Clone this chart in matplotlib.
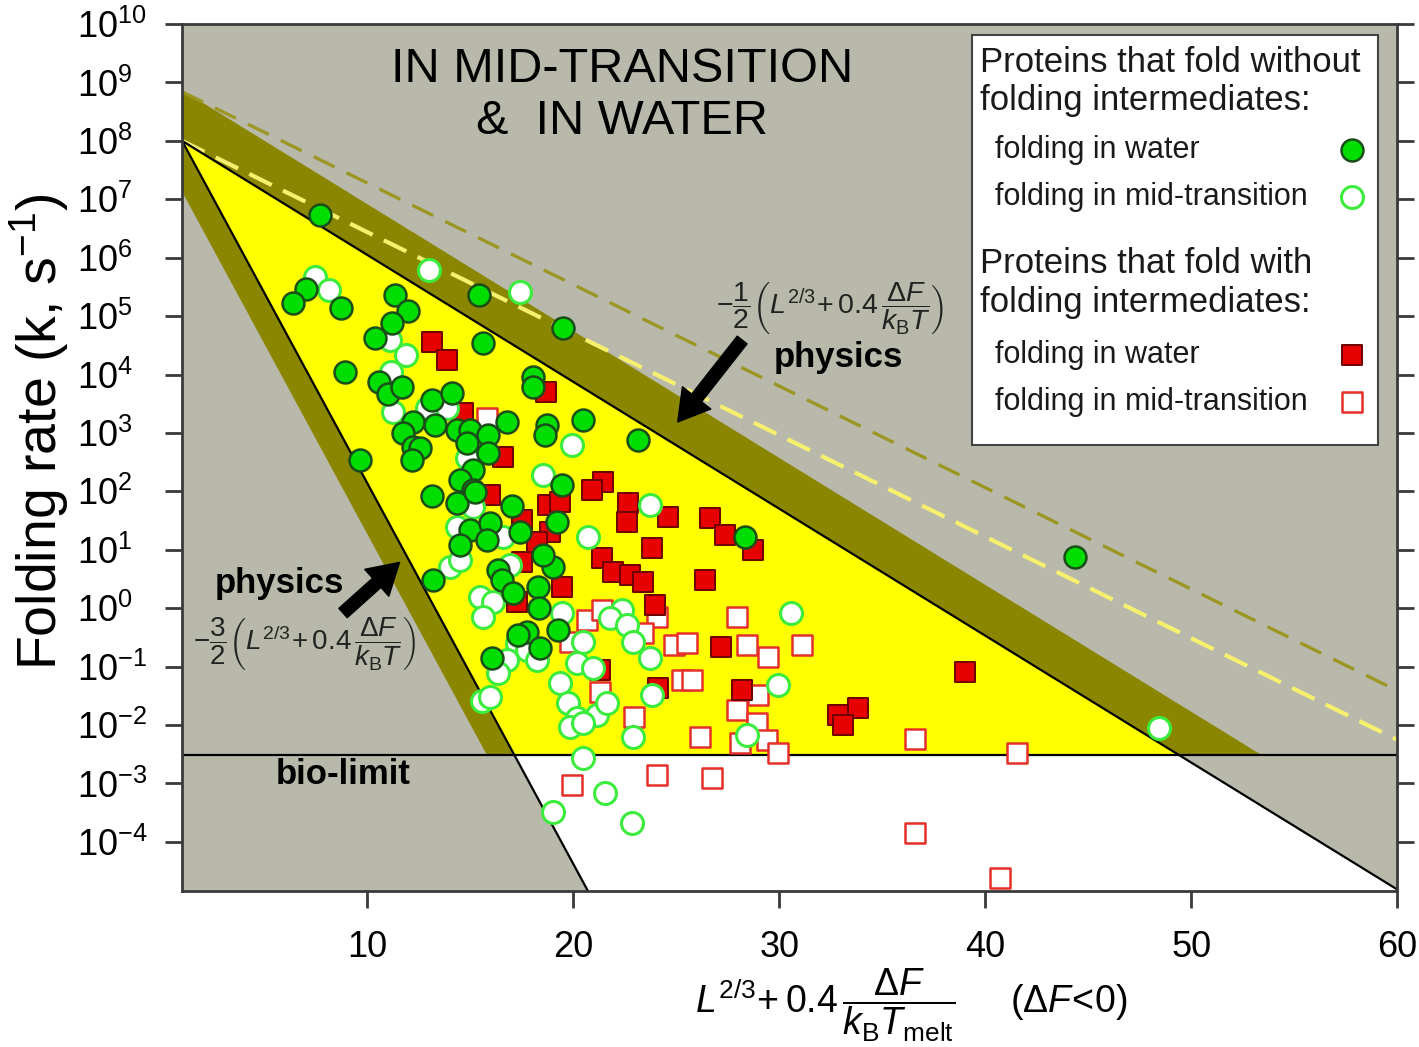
import numpy as np
import matplotlib.pyplot as plt
from matplotlib.patches import Rectangle

plt.rcParams["font.family"] = ["Liberation Sans", "DejaVu Sans"]
plt.rcParams["mathtext.fontset"] = "custom"
plt.rcParams["mathtext.rm"] = "Liberation Sans"
plt.rcParams["mathtext.it"] = "Liberation Sans:italic"
plt.rcParams["mathtext.bf"] = "Liberation Sans:bold"

# ---- data (x, log10 k) ----
# no intermediates, folding in water (filled green circles)
no_int_water_x = [7.72, 7.04, 6.41, 8.74, 15.43, 19.51, 11.36, 11.99, 11.21, 10.39,
                  15.63, 8.93, 10.58, 11.02, 11.70, 13.15, 14.12, 12.23, 13.30, 11.75,
                  12.23, 12.57, 12.18, 9.66, 14.36, 15.00, 14.85, 15.14, 14.51, 15.14,
                  13.15, 14.36, 15.00, 18.05, 18.05, 16.79, 18.73, 18.63, 20.47, 23.14,
                  15.87, 15.87, 19.46, 15.24, 17.03, 19.21, 17.42, 15.97, 14.51, 15.82,
                  13.20, 19.02, 18.54, 16.35, 16.55, 18.29, 17.08, 18.34, 17.76, 17.32,
                  19.26, 18.39, 16.06, 28.33, 44.34]
no_int_water_logk = [6.73, 5.46, 5.22, 5.14, 5.36, 4.79, 5.36, 5.09, 4.88, 4.62,
                     4.54, 4.04, 3.87, 3.66, 3.78, 3.56, 3.68, 3.18, 3.13, 3.00,
                     2.76, 2.74, 2.53, 2.53, 3.05, 3.05, 2.83, 2.36, 2.19, 2.02,
                     1.92, 1.80, 1.34, 3.96, 3.78, 3.18, 3.13, 2.96, 3.22, 2.88,
                     2.96, 2.65, 2.11, 1.99, 1.75, 1.47, 1.30, 1.46, 1.08, 1.16,
                     0.48, 0.70, 0.91, 0.65, 0.48, 0.36, 0.26, 0.00, -0.41, -0.46,
                     -0.38, -0.68, -0.86, 1.22, 0.87]

# no intermediates, folding in mid-transition (open green circles)
no_int_mid_x = [7.48, 8.16, 13.00, 17.42, 11.12, 11.89, 11.16, 11.26, 12.91, 13.88,
                14.85, 15.14, 14.36, 19.94, 18.54, 20.72, 23.72, 16.60, 14.03, 14.51,
                16.94, 15.48, 16.11, 15.63, 19.46, 22.37, 21.78, 22.61, 20.47, 22.90,
                17.27, 17.76, 18.24, 16.79, 16.35, 20.18, 20.96, 23.72, 19.36, 15.58,
                15.97, 19.75, 21.15, 20.18, 21.64, 19.84, 20.47, 22.90, 23.82, 20.47,
                21.54, 19.02, 22.85, 29.93, 28.43, 30.56, 48.46]
no_int_mid_logk = [5.67, 5.45, 5.79, 5.41, 4.59, 4.33, 4.04, 3.36, 3.42, 3.42,
                   2.57, 1.73, 1.39, 2.79, 2.28, 1.22, 1.76, 1.22, 0.70, 0.82,
                   0.74, 0.19, 0.10, -0.15, -0.09, -0.03, -0.17, -0.29, -0.58, -0.58,
                   -0.60, -0.72, -0.89, -0.89, -1.11, -0.94, -1.03, -0.86, -1.28, -1.58,
                   -1.52, -1.63, -1.83, -1.88, -1.63, -2.04, -1.97, -2.21, -1.49, -2.57,
                   -3.17, -3.49, -3.68, -1.32, -2.17, -0.09, -2.05]

# with intermediates, folding in water (filled red squares)
int_water_x = [13.15, 13.88, 14.66, 18.68, 16.60, 15.97, 18.78, 19.36, 21.45, 20.91,
               22.66, 22.61, 24.60, 26.63, 27.36, 28.72, 23.82, 17.52, 18.87, 18.24,
               17.52, 21.40, 21.93, 22.75, 23.38, 19.46, 26.39, 23.97, 17.27, 24.12,
               27.17, 28.19, 21.30, 32.84, 33.81, 33.08, 39.00]
int_water_logk = [4.55, 4.25, 3.34, 3.70, 2.59, 1.93, 1.76, 1.82, 2.16, 2.02,
                  1.80, 1.47, 1.56, 1.54, 1.25, 0.99, 1.03, 1.51, 1.30, 1.13,
                  0.79, 0.86, 0.62, 0.57, 0.45, 0.36, 0.48, 0.05, 0.10, -1.37,
                  -0.67, -1.40, -1.06, -1.83, -1.70, -2.00, -1.10]

# with intermediates, folding in mid-transition (open red squares)
int_mid_x = [15.82, 20.67, 21.40, 24.07, 23.38, 19.84, 24.90, 25.28, 25.76, 21.30,
             22.95, 26.15, 25.52, 28.43, 29.45, 31.10, 28.96, 27.94, 28.91, 28.09,
             29.40, 29.93, 27.94, 36.58, 41.57, 26.73, 24.07, 19.94, 36.58, 40.70]
int_mid_logk = [3.25, -0.21, -0.03, -0.15, -0.43, -0.58, -0.63, -1.23, -1.23, -1.44,
                -1.87, -2.21, -0.60, -0.63, -0.84, -0.63, -1.49, -1.75, -1.97, -2.31,
                -2.26, -2.48, -0.15, -2.23, -2.48, -2.91, -2.86, -3.03, -3.85, -4.61]

# ---- model lines: log10 k = start - slope * (x - 1) ----
X_MIN, X_MAX = 1.0, 60.0
LOGK_MIN, LOGK_MAX = -4.84, 10.0
APEX = 8.0
SLOPE_HALF = 0.5 / np.log(10)
SLOPE_3HALF = 1.5 / np.log(10)
SLOPE_DASH = 0.4 / np.log(10)
BAND_TOP = 8.87
BAND_LEFT = 7.13
DASH_OLIVE_START = 8.84
BIO_LIMIT = -2.52

GRAY = "#b9b9ab"
OLIVE = "#8b8600"
YELLOW = "#ffff00"


def cross(start, slope, level):
    return X_MIN + (start - level) / slope


fig = plt.figure(figsize=(14.19, 10.47), dpi=100)
ax = fig.add_axes([0.1283, 0.149, 0.8562, 0.8281])
ax.set_yscale("log")
ax.set_xlim(X_MIN, X_MAX)
ax.set_ylim(10**LOGK_MIN, 10**LOGK_MAX)
ax.set_facecolor(GRAY)

x_bio_half = cross(APEX, SLOPE_HALF, BIO_LIMIT)
x_bio_3half = cross(APEX, SLOPE_3HALF, BIO_LIMIT)
x_band_top = cross(BAND_TOP, SLOPE_HALF, BIO_LIMIT)
x_band_left = cross(BAND_LEFT, SLOPE_3HALF, BIO_LIMIT)
x_bottom_3half = cross(APEX, SLOPE_3HALF, LOGK_MIN)
logk_right_half = APEX - SLOPE_HALF * (X_MAX - X_MIN)

# olive band, yellow wedge, white area under bio-limit
ax.fill([X_MIN, x_band_top, x_band_left, X_MIN],
        10 ** np.array([BAND_TOP, BIO_LIMIT, BIO_LIMIT, BAND_LEFT]),
        color=OLIVE, lw=0, zorder=1)
ax.fill([X_MIN, x_bio_3half, x_bio_half],
        10 ** np.array([APEX, BIO_LIMIT, BIO_LIMIT]),
        color=YELLOW, lw=0, zorder=1.5)
ax.fill([x_bio_3half, x_bio_half, X_MAX, X_MAX, x_bottom_3half],
        10 ** np.array([BIO_LIMIT, BIO_LIMIT, logk_right_half, LOGK_MIN, LOGK_MIN]),
        color="white", lw=0, zorder=1.5)

xs = np.array([X_MIN, X_MAX])
ax.plot(xs, 10 ** (DASH_OLIVE_START - SLOPE_DASH * (xs - X_MIN)),
        color="#9c9624", lw=2.4, ls=(0, (7, 4)), zorder=2)
ax.plot(xs, 10 ** (APEX - SLOPE_DASH * (xs - X_MIN)),
        color="#f7f06e", lw=3, ls=(0, (6, 3)), zorder=2)

ax.plot([X_MIN, X_MAX], [10**APEX, 10**logk_right_half], color="black", lw=1.6, zorder=3)
ax.plot([X_MIN, x_bottom_3half], [10**APEX, 10**LOGK_MIN], color="black", lw=1.6, zorder=3)
ax.axhline(10**BIO_LIMIT, color="black", lw=1.6, zorder=3)

# points
ms_c, ms_s = 250, 200
ax.scatter(int_mid_x, 10 ** np.array(int_mid_logk), marker="s", s=ms_s,
           facecolor="white", edgecolor="#e5302a", lw=1.8, zorder=4)
ax.scatter(int_water_x, 10 ** np.array(int_water_logk), marker="s", s=ms_s,
           facecolor="#e60000", edgecolor="#6e0000", lw=1.4, zorder=5)
ax.scatter(no_int_mid_x, 10 ** np.array(no_int_mid_logk), marker="o", s=ms_c,
           facecolor="white", edgecolor="#3cec3c", lw=2.2, zorder=6)
ax.scatter(no_int_water_x, 10 ** np.array(no_int_water_logk), marker="o", s=ms_c,
           facecolor="#00dd00", edgecolor="#1a4d1a", lw=1.8, zorder=7)

# axes styling
for sp in ax.spines.values():
    sp.set_color("#3a3a3a")
    sp.set_linewidth(2)
    sp.set_zorder(10)
ax.set_xticks([10, 20, 30, 40, 50, 60])
ax.set_yticks([10.0**e for e in range(-4, 11)])
ax.set_yticklabels([r"$10^{%d}$" % e for e in range(-4, 11)])
ax.minorticks_off()
ax.tick_params(axis="both", direction="out", length=12, width=2, color="#3a3a3a",
               labelsize=26)
ax.tick_params(axis="x", pad=16)
ax.tick_params(axis="y", right=True, pad=64)
plt.setp(ax.get_yticklabels(), ha="left")

ax.set_ylabel(r"Folding rate (k, s$^{-1}$)", fontsize=40, va="center")
ax.yaxis.set_label_coords(-0.118, 0.53)
ax.set_xlabel(r"$L^{2/3}\!+0.4\,\dfrac{\Delta F}{k_{\mathrm{B}}T_{\mathrm{melt}}}$"
              r"     $(\Delta F\!<\!0)$", fontsize=27)
ax.xaxis.set_label_coords(0.60, -0.088)

# annotations
ax.text(0.362, 0.918, "IN MID-TRANSITION\n&  IN WATER", transform=ax.transAxes,
        ha="center", va="center", fontsize=35, linespacing=1.2, zorder=8)
ax.text(0.540, 0.615, "physics", transform=ax.transAxes, ha="center", va="center",
        fontsize=25, fontweight="bold", zorder=8)
ax.text(0.080, 0.355, "physics", transform=ax.transAxes, ha="center", va="center",
        fontsize=25, fontweight="bold", zorder=8)
ax.text(0.1325, 0.134, "bio-limit", transform=ax.transAxes, ha="center", va="center",
        fontsize=25, fontweight="bold", zorder=8)
ax.text(0.533, 0.672,
        r"$-\dfrac{1}{2}\left(L^{2/3}\!+0.4\,\dfrac{\Delta F}{k_{\mathrm{B}}T}\right)$",
        transform=ax.transAxes, ha="center", va="center", fontsize=20.5, color="#222222",
        zorder=8)
ax.text(0.101, 0.286,
        r"$-\dfrac{3}{2}\left(L^{2/3}\!+0.4\,\dfrac{\Delta F}{k_{\mathrm{B}}T}\right)$",
        transform=ax.transAxes, ha="center", va="center", fontsize=20, color="#222222",
        zorder=8)

arrow = dict(facecolor="black", edgecolor="black", width=9, headwidth=26, headlength=22)
ax.annotate("", xy=(0.179, 0.379), xytext=(0.1325, 0.3206), xycoords="axes fraction",
            arrowprops=arrow, zorder=8)
ax.annotate("", xy=(0.408, 0.541), xytext=(0.461, 0.6355), xycoords="axes fraction",
            arrowprops=arrow, zorder=8)

# legend box
ax.add_patch(Rectangle((0.650, 0.514), 0.334, 0.473, transform=ax.transAxes,
                       facecolor="white", edgecolor="#444444", lw=1.5, zorder=9))
legend_rows = [
    (0.956, "Proteins that fold without", 25, 0.657),
    (0.912, "folding intermediates:", 25, 0.657),
    (0.855, "folding in water", 22, 0.669),
    (0.800, "folding in mid-transition", 22, 0.669),
    (0.724, "Proteins that fold with", 25, 0.657),
    (0.679, "folding intermediates:", 25, 0.657),
    (0.618, "folding in water", 22, 0.669),
    (0.564, "folding in mid-transition", 22, 0.669),
]
for yy, txt, fs, xx in legend_rows:
    ax.text(xx, yy, txt, transform=ax.transAxes, ha="left", va="center",
            fontsize=fs, color="#1a1a1a", zorder=10)
key_x = 0.963
ax.scatter([key_x], [0.855], transform=ax.transAxes, marker="o", s=ms_c,
           facecolor="#00dd00", edgecolor="#1a4d1a", lw=1.8, zorder=11, clip_on=False)
ax.scatter([key_x], [0.800], transform=ax.transAxes, marker="o", s=ms_c,
           facecolor="white", edgecolor="#3cec3c", lw=2.2, zorder=11, clip_on=False)
ax.scatter([key_x], [0.618], transform=ax.transAxes, marker="s", s=ms_s,
           facecolor="#e60000", edgecolor="#6e0000", lw=1.4, zorder=11, clip_on=False)
ax.scatter([key_x], [0.564], transform=ax.transAxes, marker="s", s=ms_s,
           facecolor="white", edgecolor="#e5302a", lw=1.8, zorder=11, clip_on=False)

fig.savefig("out.png", dpi=100)
